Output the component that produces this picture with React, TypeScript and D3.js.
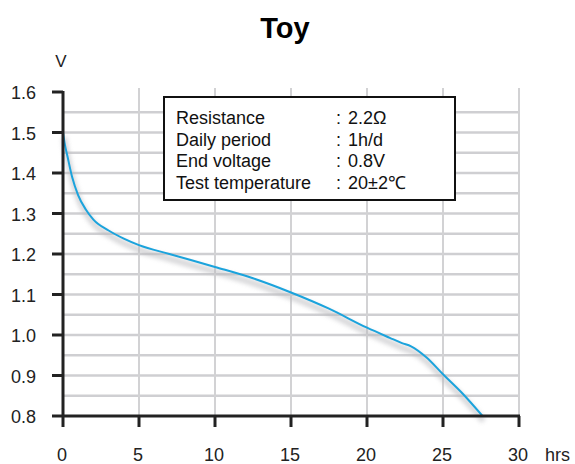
import React from "react";
import * as d3 from "d3";

const hours = [0, 0.1, 0.3, 0.6, 1, 1.5, 2, 3, 4, 5, 7, 10, 12.5, 15, 17.5, 20, 21.5, 22.3, 22.9, 23.9, 25, 26.3, 27.6];
const volts = [1.5, 1.475, 1.44, 1.39, 1.345, 1.31, 1.285, 1.258, 1.238, 1.222, 1.2, 1.168, 1.14, 1.105, 1.065, 1.018, 0.993, 0.98, 0.972, 0.945, 0.903, 0.855, 0.8];
const xTicks = [0, 5, 10, 15, 20, 25, 30];
const yTicks = [0.8, 0.9, 1.0, 1.1, 1.2, 1.3, 1.4, 1.5, 1.6];
const yGrid = [0.85, 0.9, 0.95, 1.0, 1.05, 1.1, 1.15, 1.2, 1.25, 1.3, 1.35, 1.4, 1.45, 1.5, 1.55];
const infoLabels = ["Resistance", "Daily period", "End voltage", "Test temperature"];
const infoValues = ["2.2Ω", "1h/d", "0.8V", "20±2℃"];

export default function App() {
  const x = d3.scaleLinear().domain([0, 30]).range([63, 519]);
  const y = d3.scaleLinear().domain([0.8, 1.6]).range([416, 92]);
  const pts = hours.map((h, i) => [h, volts[i]] as [number, number]);
  const line = d3
    .line<[number, number]>()
    .x((d) => x(d[0]))
    .y((d) => y(d[1]))
    .curve(d3.curveMonotoneX);
  const path = line(pts) || "";
  const font = "Liberation Sans, Arial, sans-serif";
  return (
    <svg width={575} height={464} style={{ position: "absolute", left: 0, top: 0, background: "#fff" }} fontFamily={font}>
      <defs>
        <filter id="blur" x="-10%" y="-10%" width="120%" height="120%">
          <feGaussianBlur stdDeviation="2" />
        </filter>
      </defs>
      <text x={285} y={38} textAnchor="middle" fontSize={29} fontWeight="bold" fill="#000">Toy</text>
      <text x={61} y={67} textAnchor="middle" fontSize={17} fill="#222">V</text>
      {yGrid.map((v) => (
        <line key={"hg" + v} x1={63} x2={519} y1={y(v)} y2={y(v)} stroke="#cfcfd2" strokeWidth={2.5} />
      ))}
      {xTicks.filter((t) => t > 0).map((t) => (
        <line key={"vg" + t} x1={x(t)} x2={x(t)} y1={88} y2={416} stroke="#d2d2d4" strokeWidth={2} />
      ))}
      <path d={path} fill="none" stroke="#b8b8bc" strokeWidth={6} opacity={0.55} transform="translate(1,5)" filter="url(#blur)" />
      <path d={path} fill="none" stroke="#1ba3dc" strokeWidth={2} />
      <line x1={63} x2={63} y1={91} y2={417} stroke="#222" strokeWidth={3} />
      <line x1={62} x2={520} y1={416} y2={416} stroke="#222" strokeWidth={3} />
      {yTicks.map((v) => (
        <g key={"yt" + v}>
          <line x1={52} x2={63} y1={y(v)} y2={y(v)} stroke="#222" strokeWidth={3} />
          <text x={36} y={y(v) + 7} textAnchor="end" fontSize={18} fill="#222">{v.toFixed(1)}</text>
        </g>
      ))}
      {xTicks.map((t) => (
        <g key={"xt" + t}>
          <line x1={x(t)} x2={x(t)} y1={416} y2={427} stroke="#222" strokeWidth={3} />
          <text x={x(t) - 1} y={461} textAnchor="middle" fontSize={18} fill="#222">{t}</text>
        </g>
      ))}
      <text x={545} y={461} fontSize={18} fill="#222">hrs</text>
      <rect x={164} y={97} width={291} height={103} fill="#fff" stroke="#111" strokeWidth={2} />
      {infoLabels.map((l, i) => (
        <g key={l}>
          <text x={176} y={124 + i * 21.7} fontSize={18} fill="#111">{l}</text>
          <text x={336} y={124 + i * 21.7} fontSize={18} fill="#111">:</text>
          <text x={348} y={124 + i * 21.7} fontSize={18} fill="#111">{infoValues[i]}</text>
        </g>
      ))}
    </svg>
  );
}
